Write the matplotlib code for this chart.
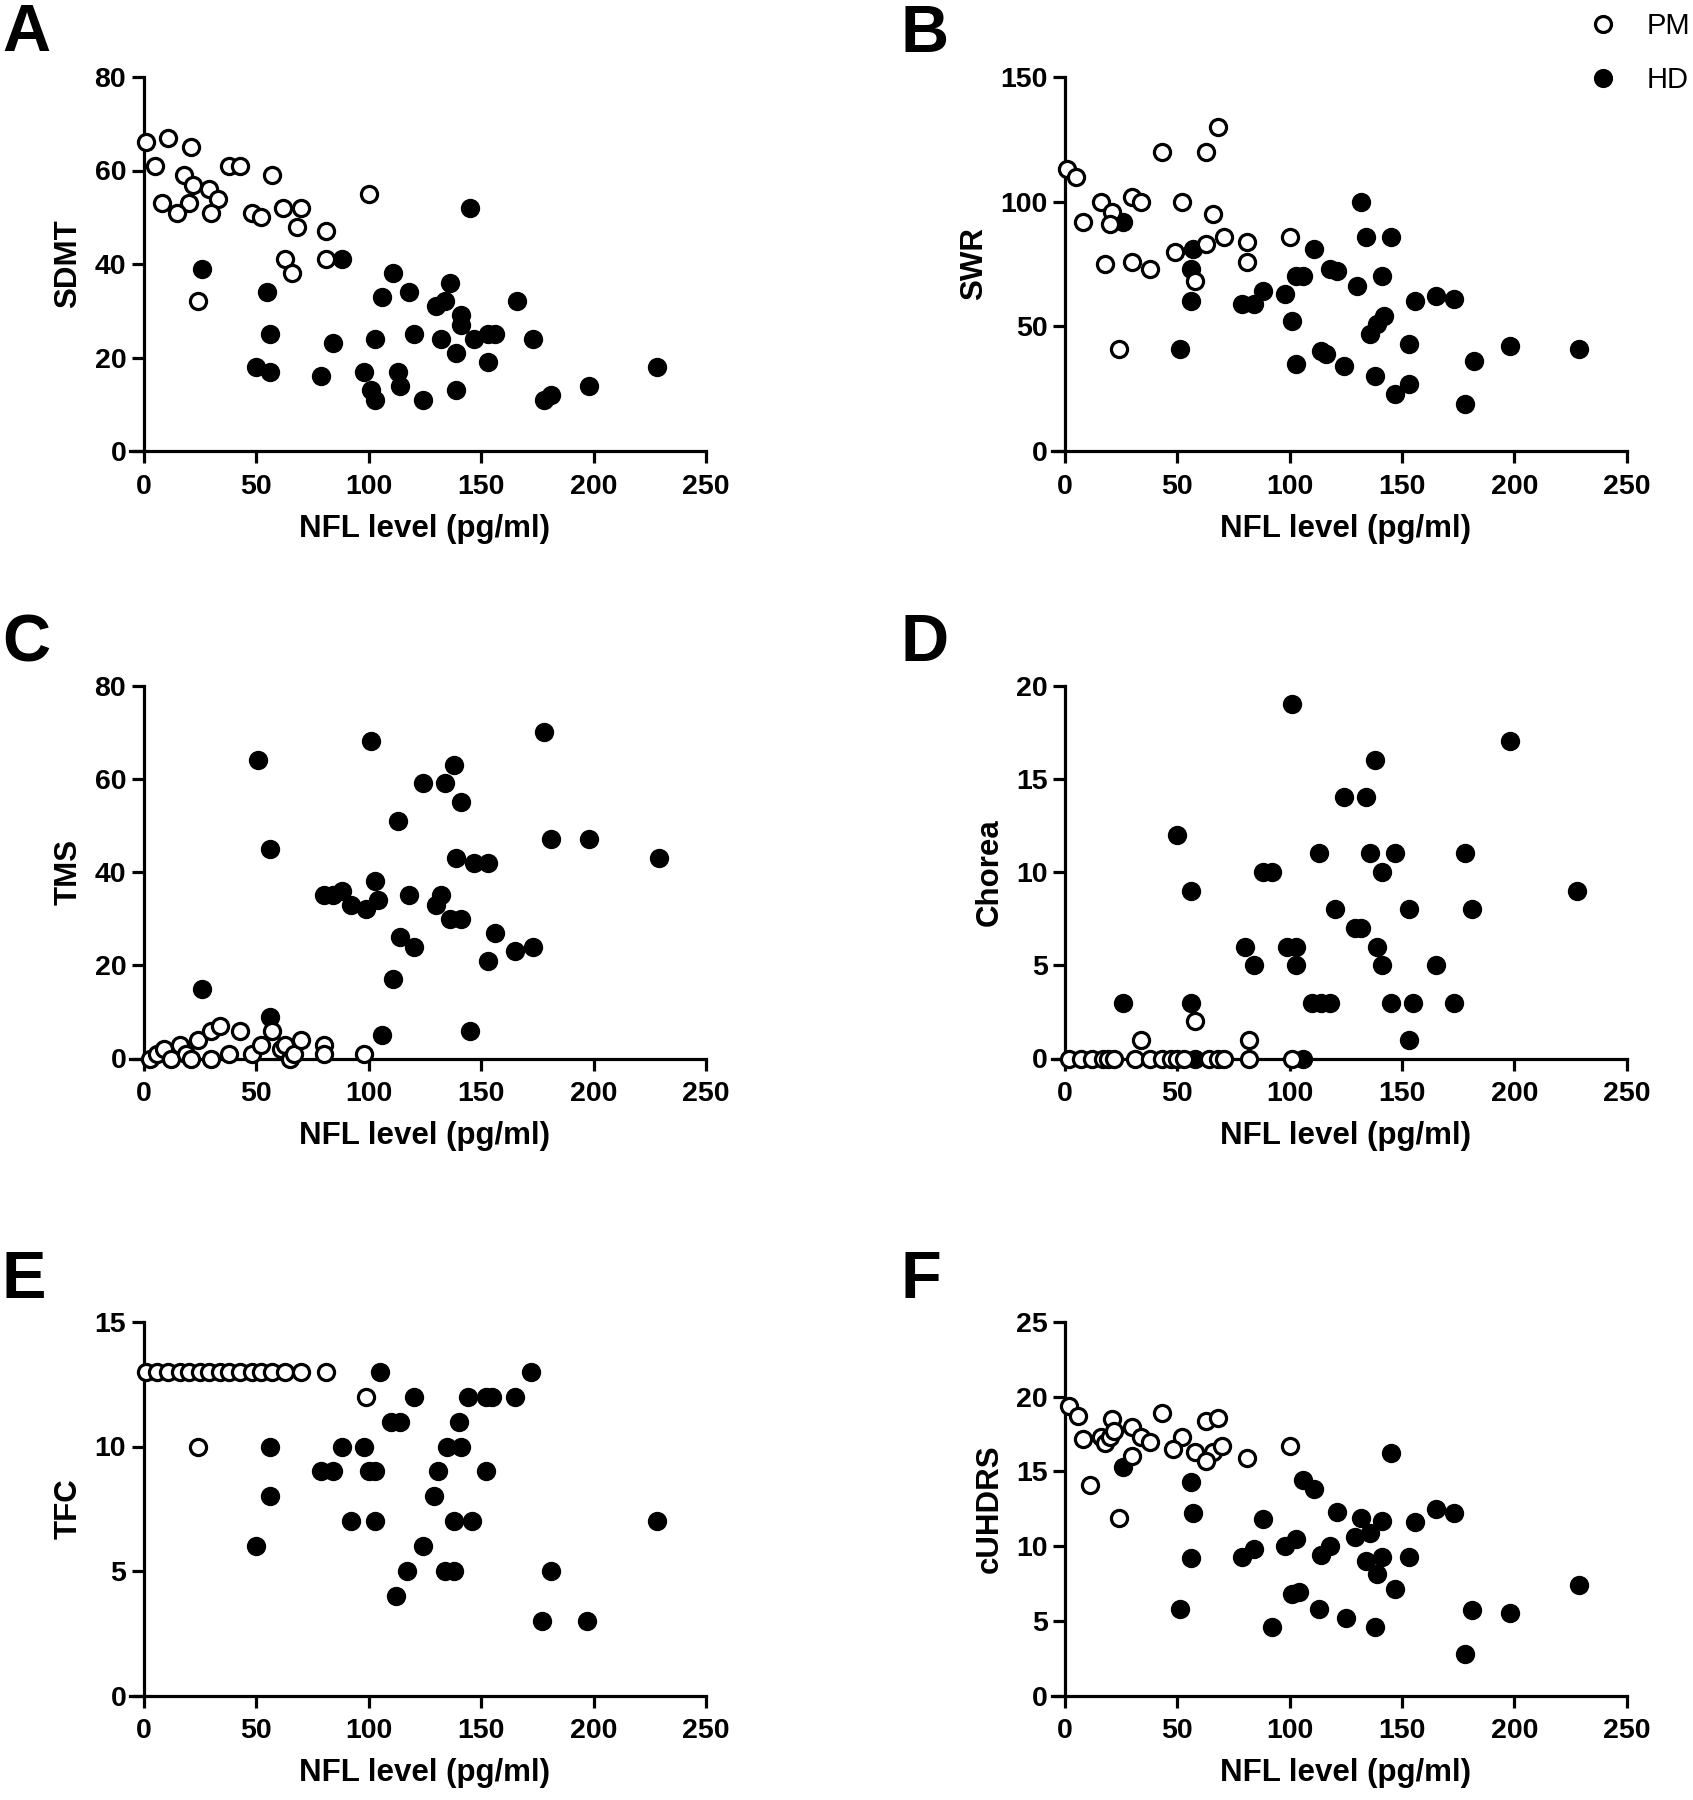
import matplotlib
matplotlib.use("Agg")
import matplotlib.pyplot as plt
from matplotlib.lines import Line2D

plt.rcParams['font.family'] = ['Liberation Sans', 'DejaVu Sans']
plt.rcParams['font.weight'] = 'bold'

xlabel = "NFL level (pg/ml)"

# A - SDMT
sdmt_pm_nfl = [1, 11, 21, 5, 38, 43, 57, 18, 22, 29, 33, 8, 20, 15, 30, 100, 48, 52, 62, 70, 68, 81, 63, 66, 81, 24]
sdmt_pm = [66, 67, 65, 61, 61, 61, 59, 59, 57, 56, 54, 53, 53, 51, 51, 55, 51, 50, 52, 52, 48, 47, 41, 38, 41, 32]
sdmt_hd_nfl = [26, 88, 145, 55, 56, 50, 56, 79, 84, 111, 106, 118, 136, 130, 134, 141, 141, 166, 103, 120,
               132, 147, 153, 156, 173, 139, 153, 98, 113, 101, 103, 114, 124, 139, 178, 181, 198, 228]
sdmt_hd = [39, 41, 52, 34, 25, 18, 17, 16, 23, 38, 33, 34, 36, 31, 32, 29, 27, 32, 24, 25,
           24, 24, 25, 25, 24, 21, 19, 17, 17, 13, 11, 14, 11, 13, 11, 12, 14, 18]

# B - SWR
swr_pm_nfl = [1, 5, 43, 63, 68, 16, 21, 30, 34, 52, 66, 8, 20, 71, 81, 100, 63, 49, 81, 18, 30, 38, 58, 24]
swr_pm = [113, 110, 120, 120, 130, 100, 96, 102, 100, 100, 95, 92, 91, 86, 84, 86, 83, 80, 76, 75, 76, 73, 68, 41]
swr_hd_nfl = [26, 57, 56, 56, 51, 88, 79, 84, 98, 101, 103, 103, 106, 111, 118, 121, 130, 132, 134, 145,
              141, 114, 124, 136, 139, 142, 138, 147, 153, 153, 156, 165, 173, 182, 178, 198, 229, 116]
swr_hd = [92, 81, 73, 60, 41, 64, 59, 59, 63, 52, 35, 70, 70, 81, 73, 72, 66, 100, 86, 86,
          70, 40, 34, 47, 51, 54, 30, 23, 27, 43, 60, 62, 61, 36, 19, 42, 41, 39]

# C - TMS
tms_pm_nfl = [3, 6, 9, 12, 16, 19, 21, 24, 30, 34, 30, 38, 43, 48, 52, 57, 61, 63, 65, 67, 70, 80, 80, 98]
tms_pm = [0, 1, 2, 0, 3, 1, 0, 4, 6, 7, 0, 1, 6, 1, 3, 6, 2, 3, 0, 1, 4, 3, 1, 1]
tms_hd_nfl = [51, 101, 178, 138, 124, 134, 141, 113, 56, 181, 198, 229, 139, 147, 153, 103, 80, 84, 88, 92,
              99, 104, 118, 132, 130, 136, 141, 114, 120, 156, 165, 173, 153, 111, 26, 56, 145, 106]
tms_hd = [64, 68, 70, 63, 59, 59, 55, 51, 45, 47, 47, 43, 43, 42, 42, 38, 35, 35, 36, 33,
          32, 34, 35, 35, 33, 30, 30, 26, 24, 27, 23, 24, 21, 17, 15, 9, 6, 5]

# D - Chorea
chorea_pm_nfl = [2, 7, 12, 17, 19, 22, 31, 38, 43, 47, 50, 53, 64, 68, 71, 82, 101, 34, 58, 82]
chorea_pm = [0, 0, 0, 0, 0, 0, 0, 0, 0, 0, 0, 0, 0, 0, 0, 0, 0, 1, 2, 1]
chorea_hd_nfl = [101, 198, 138, 124, 134, 50, 113, 136, 147, 178, 88, 92, 141, 56, 228, 120, 153, 181, 129, 132,
                 80, 99, 103, 139, 84, 103, 141, 165, 26, 56, 110, 114, 118, 145, 155, 173, 153, 106, 58]
chorea_hd = [19, 17, 16, 14, 14, 12, 11, 11, 11, 11, 10, 10, 10, 9, 9, 8, 8, 8, 7, 7,
             6, 6, 6, 6, 5, 5, 5, 5, 3, 3, 3, 3, 3, 3, 3, 3, 1, 0, 0]

# E - TFC
tfc_pm_nfl = [1, 6, 11, 16, 20, 25, 29, 34, 38, 43, 48, 52, 57, 63, 70, 81, 99, 24]
tfc_pm = [13, 13, 13, 13, 13, 13, 13, 13, 13, 13, 13, 13, 13, 13, 13, 13, 12, 10]
tfc_hd_nfl = [105, 172, 120, 144, 152, 155, 165, 110, 114, 140, 56, 88, 98, 135, 141, 79, 84, 100, 103, 131,
              152, 56, 129, 92, 103, 138, 146, 228, 50, 124, 117, 134, 138, 181, 112, 177, 197]
tfc_hd = [13, 13, 12, 12, 12, 12, 12, 11, 11, 11, 10, 10, 10, 10, 10, 9, 9, 9, 9, 9,
          9, 8, 8, 7, 7, 7, 7, 7, 6, 6, 5, 5, 5, 5, 4, 3, 3]

# F - cUHDRS
cuhdrs_pm_nfl = [2, 6, 21, 30, 43, 63, 68, 8, 16, 18, 20, 22, 34, 38, 52, 48, 58, 66, 63, 70, 30, 81, 100, 11, 24]
cuhdrs_pm = [19.4, 18.7, 18.5, 18.0, 18.9, 18.4, 18.6, 17.2, 17.3, 16.9, 17.3, 17.7, 17.3, 17.0, 17.3, 16.5,
             16.3, 16.3, 15.7, 16.7, 16.0, 15.9, 16.7, 14.1, 11.9]
cuhdrs_hd_nfl = [26, 145, 56, 106, 111, 57, 88, 121, 132, 141, 136, 129, 156, 165, 173, 98, 103, 84, 79, 56,
                 114, 118, 134, 141, 153, 139, 147, 101, 104, 229, 51, 113, 125, 181, 198, 92, 138, 178]
cuhdrs_hd = [15.3, 16.2, 14.3, 14.4, 13.8, 12.2, 11.8, 12.3, 11.9, 11.7, 10.9, 10.6, 11.6, 12.5, 12.2, 10.0, 10.5,
             9.8, 9.3, 9.2, 9.4, 10.0, 9.0, 9.3, 9.3, 8.1, 7.1, 6.8, 6.9, 7.4, 5.8, 5.8, 5.2, 5.7, 5.5, 4.6, 4.6, 2.8]

W, H = 1693, 1800
MS = 135
LW = 2.3


def panel(left, top, bottom, width, ylabel, yticks, pm_x, pm_y, hd_x, hd_y):
    ax = fig.add_axes([left / W, 1 - bottom / H, width / W, (bottom - top) / H])
    ax.scatter(hd_x, hd_y, s=MS, facecolor='black', edgecolor='black', linewidths=LW, zorder=3, clip_on=False)
    ax.scatter(pm_x, pm_y, s=MS, facecolor='white', edgecolor='black', linewidths=LW, zorder=4, clip_on=False)
    ax.set_xlim(0, 250)
    ax.set_ylim(yticks[0], yticks[-1])
    ax.set_xticks([0, 50, 100, 150, 200, 250])
    ax.set_yticks(yticks)
    for s in ['top', 'right']:
        ax.spines[s].set_visible(False)
    for s in ['left', 'bottom']:
        ax.spines[s].set_linewidth(LW)
    ax.spines['bottom'].set_bounds(-6, 250)
    ax.tick_params(direction='out', length=8.5, width=LW, labelsize=20.5)
    ax.tick_params(axis='x', pad=8)
    ax.tick_params(axis='y', pad=4)
    ax.set_xlabel(xlabel, fontsize=22.5, fontweight='bold', labelpad=10)
    ax.set_ylabel(ylabel, fontsize=22.5, fontweight='bold', labelpad=8)
    return ax


fig = plt.figure(figsize=(W / 100, H / 100), dpi=100)

lefts = [143.5, 1065]
widths = [562.5, 561.5]
rows = [(77, 451), (685.5, 1058.5), (1322, 1695.5)]

panel(lefts[0], rows[0][0], rows[0][1], widths[0], 'SDMT', [0, 20, 40, 60, 80],
      sdmt_pm_nfl, sdmt_pm, sdmt_hd_nfl, sdmt_hd)
panel(lefts[1], rows[0][0], rows[0][1], widths[1], 'SWR', [0, 50, 100, 150],
      swr_pm_nfl, swr_pm, swr_hd_nfl, swr_hd)
panel(lefts[0], rows[1][0], rows[1][1], widths[0], 'TMS', [0, 20, 40, 60, 80],
      tms_pm_nfl, tms_pm, tms_hd_nfl, tms_hd)
panel(lefts[1], rows[1][0], rows[1][1], widths[1], 'Chorea', [0, 5, 10, 15, 20],
      chorea_pm_nfl, chorea_pm, chorea_hd_nfl, chorea_hd)
panel(lefts[0], rows[2][0], rows[2][1], widths[0], 'TFC', [0, 5, 10, 15],
      tfc_pm_nfl, tfc_pm, tfc_hd_nfl, tfc_hd)
panel(lefts[1], rows[2][0], rows[2][1], widths[1], 'cUHDRS', [0, 5, 10, 15, 20, 25],
      cuhdrs_pm_nfl, cuhdrs_pm, cuhdrs_hd_nfl, cuhdrs_hd)

# panel letters
letters = [('A', 2, 51), ('B', 900, 52), ('C', 2, 661), ('D', 900, 661), ('E', 2, 1298), ('F', 900, 1298)]
for t, x, y in letters:
    fig.text(x / W, 1 - y / H, t, fontsize=48, fontweight='bold', va='baseline', ha='left')

handles = [Line2D([], [], ls='none', marker='o', markersize=11.5, markerfacecolor='white',
                  markeredgecolor='black', markeredgewidth=LW),
           Line2D([], [], ls='none', marker='o', markersize=11.5, markerfacecolor='black',
                  markeredgecolor='black', markeredgewidth=LW)]
fig.legend(handles, ['PM', 'HD'], loc='upper left', bbox_to_anchor=(1588 / W, 1 - 12 / H),
           frameon=False, prop={'size': 21, 'weight': 'normal'}, handlelength=1.0,
           handletextpad=1.0, labelspacing=0.9, borderpad=0, borderaxespad=0)

fig.savefig('out.png', dpi=100)
